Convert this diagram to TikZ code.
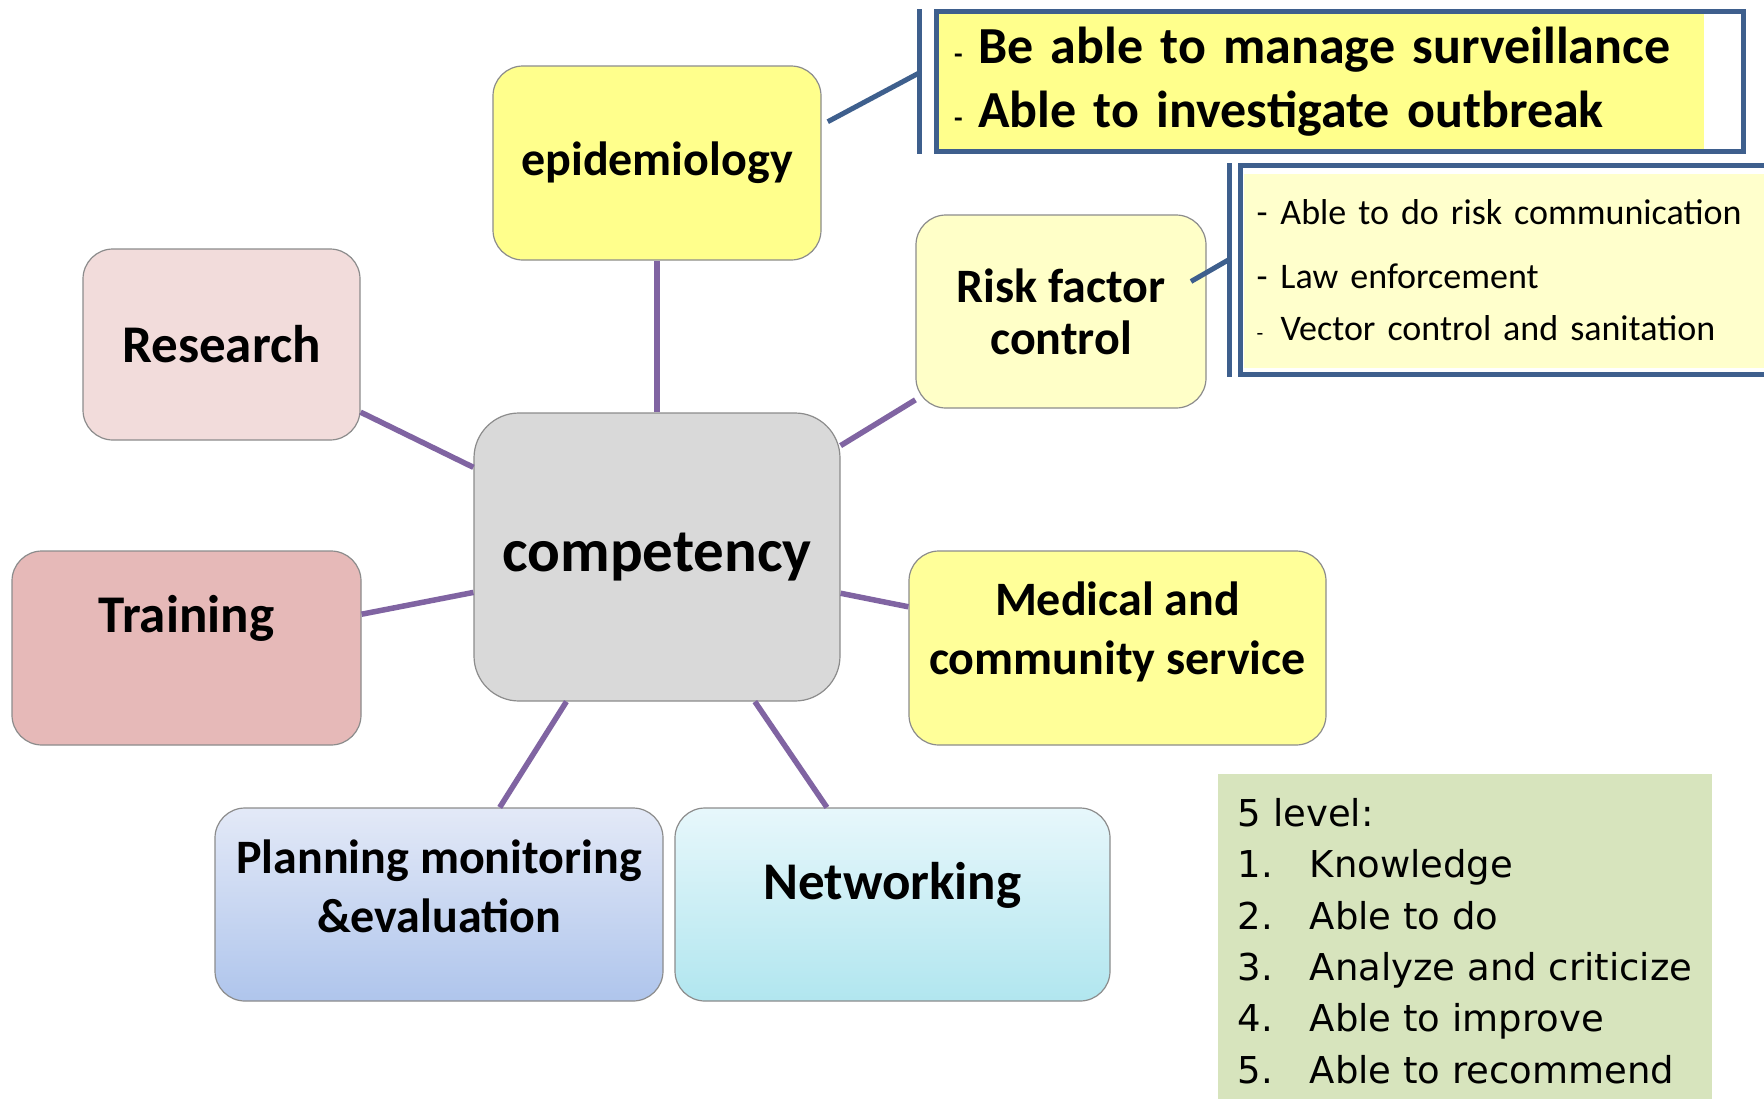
\documentclass[tikz,border=0pt]{standalone}
\usepackage{fontspec}
\setmainfont{Carlito}
\newfontfamily\levelfont{DejaVu Sans}
\usetikzlibrary{positioning,calc}

\definecolor{linkpurple}{HTML}{8064A2}
\definecolor{noteblue}{HTML}{3E5F8D}
\definecolor{epifill}{HTML}{FFFF8C}
\definecolor{notefill}{HTML}{FFFF8C}
\definecolor{riskfill}{HTML}{FFFFC8}
\definecolor{risknote}{HTML}{FFFFCC}
\definecolor{medfill}{HTML}{FFFF99}
\definecolor{resfill}{HTML}{F2DCDB}
\definecolor{trainfill}{HTML}{E6B9B8}
\definecolor{compfill}{HTML}{D9D9D9}
\definecolor{plantop}{HTML}{E3E9F7}
\definecolor{planbot}{HTML}{AFC5EC}
\definecolor{nettop}{HTML}{E7F7FB}
\definecolor{netbot}{HTML}{B1E6EF}
\definecolor{levelfill}{HTML}{D7E4BD}

\newcommand{\setsize}[2]{\fontsize{#1}{#2}\selectfont}
\newcommand{\bullitem}[2]{\makebox[24pt][l]{\setsize{#1}{#1}-}#2}

\begin{document}
\begin{tikzpicture}[x=1pt,y=-1pt,
  box/.style={draw=black!45,line width=1.2pt,rectangle,rounded corners=30pt,inner sep=0pt,align=center},
  title/.style={align=center,inner sep=0pt},
  link/.style={draw=linkpurple,line width=5.5pt},
  note/.style={draw=noteblue,line width=5pt,rectangle,fill=white,align=left},
  bar/.style={draw=noteblue,line width=5pt}]
  \clip (0,0) rectangle (1764,1098);
  \fill[white] (0,0) rectangle (1764,1098);

  % centre and the seven areas round it
  \node[box,fill=compfill,rounded corners=45pt,minimum width=366pt,minimum height=288pt,font=\bfseries\setsize{61}{70}] (comp) at (657,557) {competency};
  \node[box,fill=epifill,minimum width=328pt,minimum height=194pt,font=\bfseries\setsize{48}{56}] (epi) at (657,163) {epidemiology};
  \node[box,fill=resfill,minimum width=277pt,minimum height=191pt,font=\bfseries\setsize{53}{60}] (res) at (221.5,344.5) {Research};
  \node[box,fill=trainfill,minimum width=349pt,minimum height=194pt] (train) at (186.5,648) {};
  \node[title,font=\bfseries\setsize{53}{60}] (traintxt) at (186.5,618) {Training};
  \node[box,fill=riskfill,minimum width=290pt,minimum height=193pt,font=\bfseries\setsize{48}{52}] (risk) at (1061,311.5) {Risk factor\\control};
  \node[box,fill=medfill,minimum width=417pt,minimum height=194pt] (med) at (1117.5,648) {};
  \node[title,font=\bfseries\setsize{48}{59}] (medtxt) at (1117.5,632) {Medical and\\community service};
  \node[box,top color=plantop,bottom color=planbot,minimum width=448pt,minimum height=193pt] (plan) at (439,904.5) {};
  \node[title,font=\bfseries\setsize{48}{59}] (plantxt) at (439,886) {Planning monitoring\\\&evaluation};
  \node[box,top color=nettop,bottom color=netbot,minimum width=435pt,minimum height=193pt] (net) at (892.5,904.5) {};
  \node[title,font=\bfseries\setsize{53}{60}] (nettxt) at (892.5,885) {Networking};

  \draw[link] (comp) -- (epi);
  \draw[link] (comp) -- (res);
  \draw[link] (comp) -- (train);
  \draw[link] (comp) -- (risk);
  \draw[link] (comp) -- (med);
  \draw[link] (comp) -- (plan);
  \draw[link] (comp) -- (net);

  % notes with their brackets
  \node[note,minimum width=807pt,minimum height=140pt,inner xsep=17.5pt,text width=772pt,
    font=\bfseries\setsize{52}{64},
    path picture={\fill[notefill] (path picture bounding box.north west) rectangle ([xshift=-40pt]path picture bounding box.south east);}]
    (epinote) at (1340,81.5) {\bullitem{28}{Be able to manage surveillance}\\\bullitem{28}{Able to investigate outbreak}};
  \node[note,minimum width=560pt,minimum height=209pt,inner xsep=16.5pt,text width=527pt,
    font=\setsize{36}{52},
    path picture={\fill[risknote] ([xshift=4pt,yshift=-8pt]path picture bounding box.north west) rectangle ([yshift=7pt]path picture bounding box.south east);}]
    (risknote) at (1520,270) {\bullitem{36}{Able to do risk communication}\\[12pt]\bullitem{36}{Law enforcement}\\\bullitem{22}{Vector control and sanitation}};
  \draw[bar] ([xshift=-15pt]epinote.north west) -- ([xshift=-15pt]epinote.south west);
  \draw[bar] ([xshift=-8pt]risknote.north west) -- ([xshift=-8pt]risknote.south west);
  \coordinate (epibar) at (919,73);
  \coordinate (riskbar) at (1230,259);
  \draw[bar,shorten <=7pt] (epi.13) -- (epibar);
  \draw[bar,shorten <=-18pt] (risk.15) -- (riskbar);

  % levels
  \node[fill=levelfill,minimum width=494pt,minimum height=334pt,inner sep=0pt,align=left,
    font=\levelfont\setsize{37}{51.3}] (levels) at (1465,941)
    {5 level:\\\makebox[72pt][l]{1.}Knowledge\\\makebox[72pt][l]{2.}Able to do\\\makebox[72pt][l]{3.}Analyze and criticize\\\makebox[72pt][l]{4.}Able to improve\\\makebox[72pt][l]{5.}Able to recommend};
\end{tikzpicture}
\end{document}
